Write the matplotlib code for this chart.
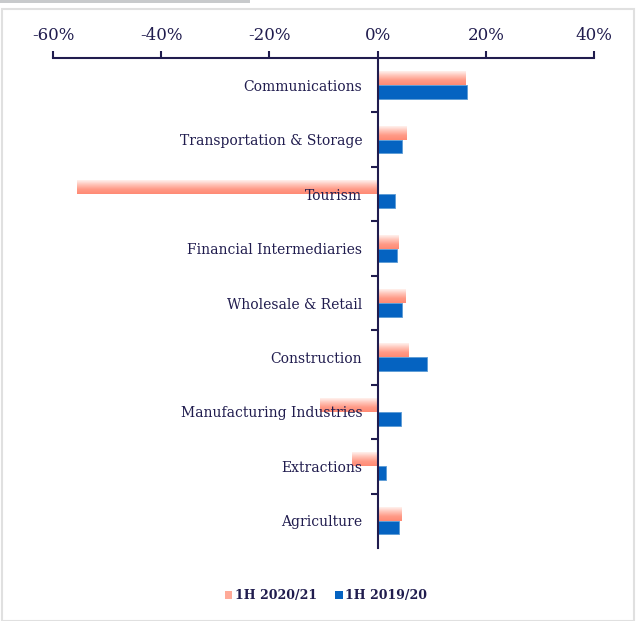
import numpy as np
import matplotlib.pyplot as plt
from matplotlib.colors import LinearSegmentedColormap
from matplotlib.patches import Patch, Rectangle

sectors = ['Communications', 'Transportation & Storage', 'Tourism',
           'Financial Intermediaries', 'Wholesale & Retail', 'Construction',
           'Manufacturing Industries', 'Extractions', 'Agriculture']
h1_2020_21 = [16.1, 5.2, -55.5, 3.7, 5.0, 5.7, -10.7, -4.8, 4.4]
h1_2019_20 = [16.5, 4.5, 3.3, 3.5, 4.5, 9.1, 4.4, 1.5, 4.0]
ticks = [-60, -40, -20, 0, 20, 40]

navy = '#201c4e'
blue = '#0563c1'
pink_cmap = LinearSegmentedColormap.from_list(
    'pink', ['#fff2ee', '#ffc2b6', '#ff9a86', '#ff8a74'])

plt.rcParams['font.family'] = ['DejaVu Serif']

fig = plt.figure(figsize=(6.36, 6.21), dpi=100)
# light frame like the original slide box
fig.patches.append(Rectangle((2 / 636, 0), 632 / 636, 1 - 9 / 621, transform=fig.transFigure,
                             fill=False, edgecolor='#e0e0e0', lw=1.5))
fig.patches.append(Rectangle((0, 1 - 3 / 621), 250 / 636, 3 / 621, transform=fig.transFigure,
                             facecolor='#c8cacc', edgecolor='none'))

ax = fig.add_axes([53 / 636, 1 - 548 / 621, (594 - 53) / 636, (548 - 58) / 621])

y = np.arange(len(sectors))
h = 0.25
bars_a = ax.barh(y - h / 2, h1_2020_21, height=h, facecolor='none', edgecolor='none', zorder=1)
ax.barh(y + h / 2, h1_2019_20, height=h, color=blue, edgecolor='#5b9bd5', lw=0.6, zorder=1)

grad = np.linspace(0, 1, 64).reshape(-1, 1)
for b in bars_a:
    x0, y0 = b.get_xy()
    w, hh = b.get_width(), b.get_height()
    # y axis is inverted later, so top of bar = y0
    ax.imshow(grad, cmap=pink_cmap, aspect='auto', origin='upper',
              extent=[x0, x0 + w, y0 + hh, y0], zorder=0.9, interpolation='bilinear')

ax.set_xlim(-60, 40)
ax.set_ylim(len(sectors) - 0.5, -0.5)

ax.xaxis.tick_top()
ax.set_xticks(ticks)
ax.set_xticklabels([f'{t}%' for t in ticks])
ax.tick_params(axis='x', colors=navy, labelcolor=navy, labelsize=12,
               length=5, width=1.5, direction='out', pad=5)

ax.spines['left'].set_position(('data', 0))
for s in ['right', 'bottom']:
    ax.spines[s].set_visible(False)
for s in ['top', 'left']:
    ax.spines[s].set_color(navy)
    ax.spines[s].set_linewidth(1.5)

ax.set_yticks(y)
ax.set_yticklabels(sectors)
ax.set_yticks(y[:-1] + 0.5, minor=True)
ax.tick_params(axis='y', which='major', length=0, pad=11, labelsize=10, labelcolor=navy)
ax.tick_params(axis='y', which='minor', length=5, width=1.5, color=navy, direction='out')

handles = [Patch(facecolor='#ffaa98', label='1H 2020/21'),
           Patch(facecolor=blue, label='1H 2019/20')]
fig.legend(handles=handles, loc='center', bbox_to_anchor=(326 / 636, 1 - 596 / 621), ncol=2,
           frameon=False, handlelength=0.6, handleheight=0.6, handletextpad=0.2,
           columnspacing=1.5, prop={'weight': 'bold', 'size': 9}, labelcolor=navy)

fig.savefig('out.png', dpi=100)
